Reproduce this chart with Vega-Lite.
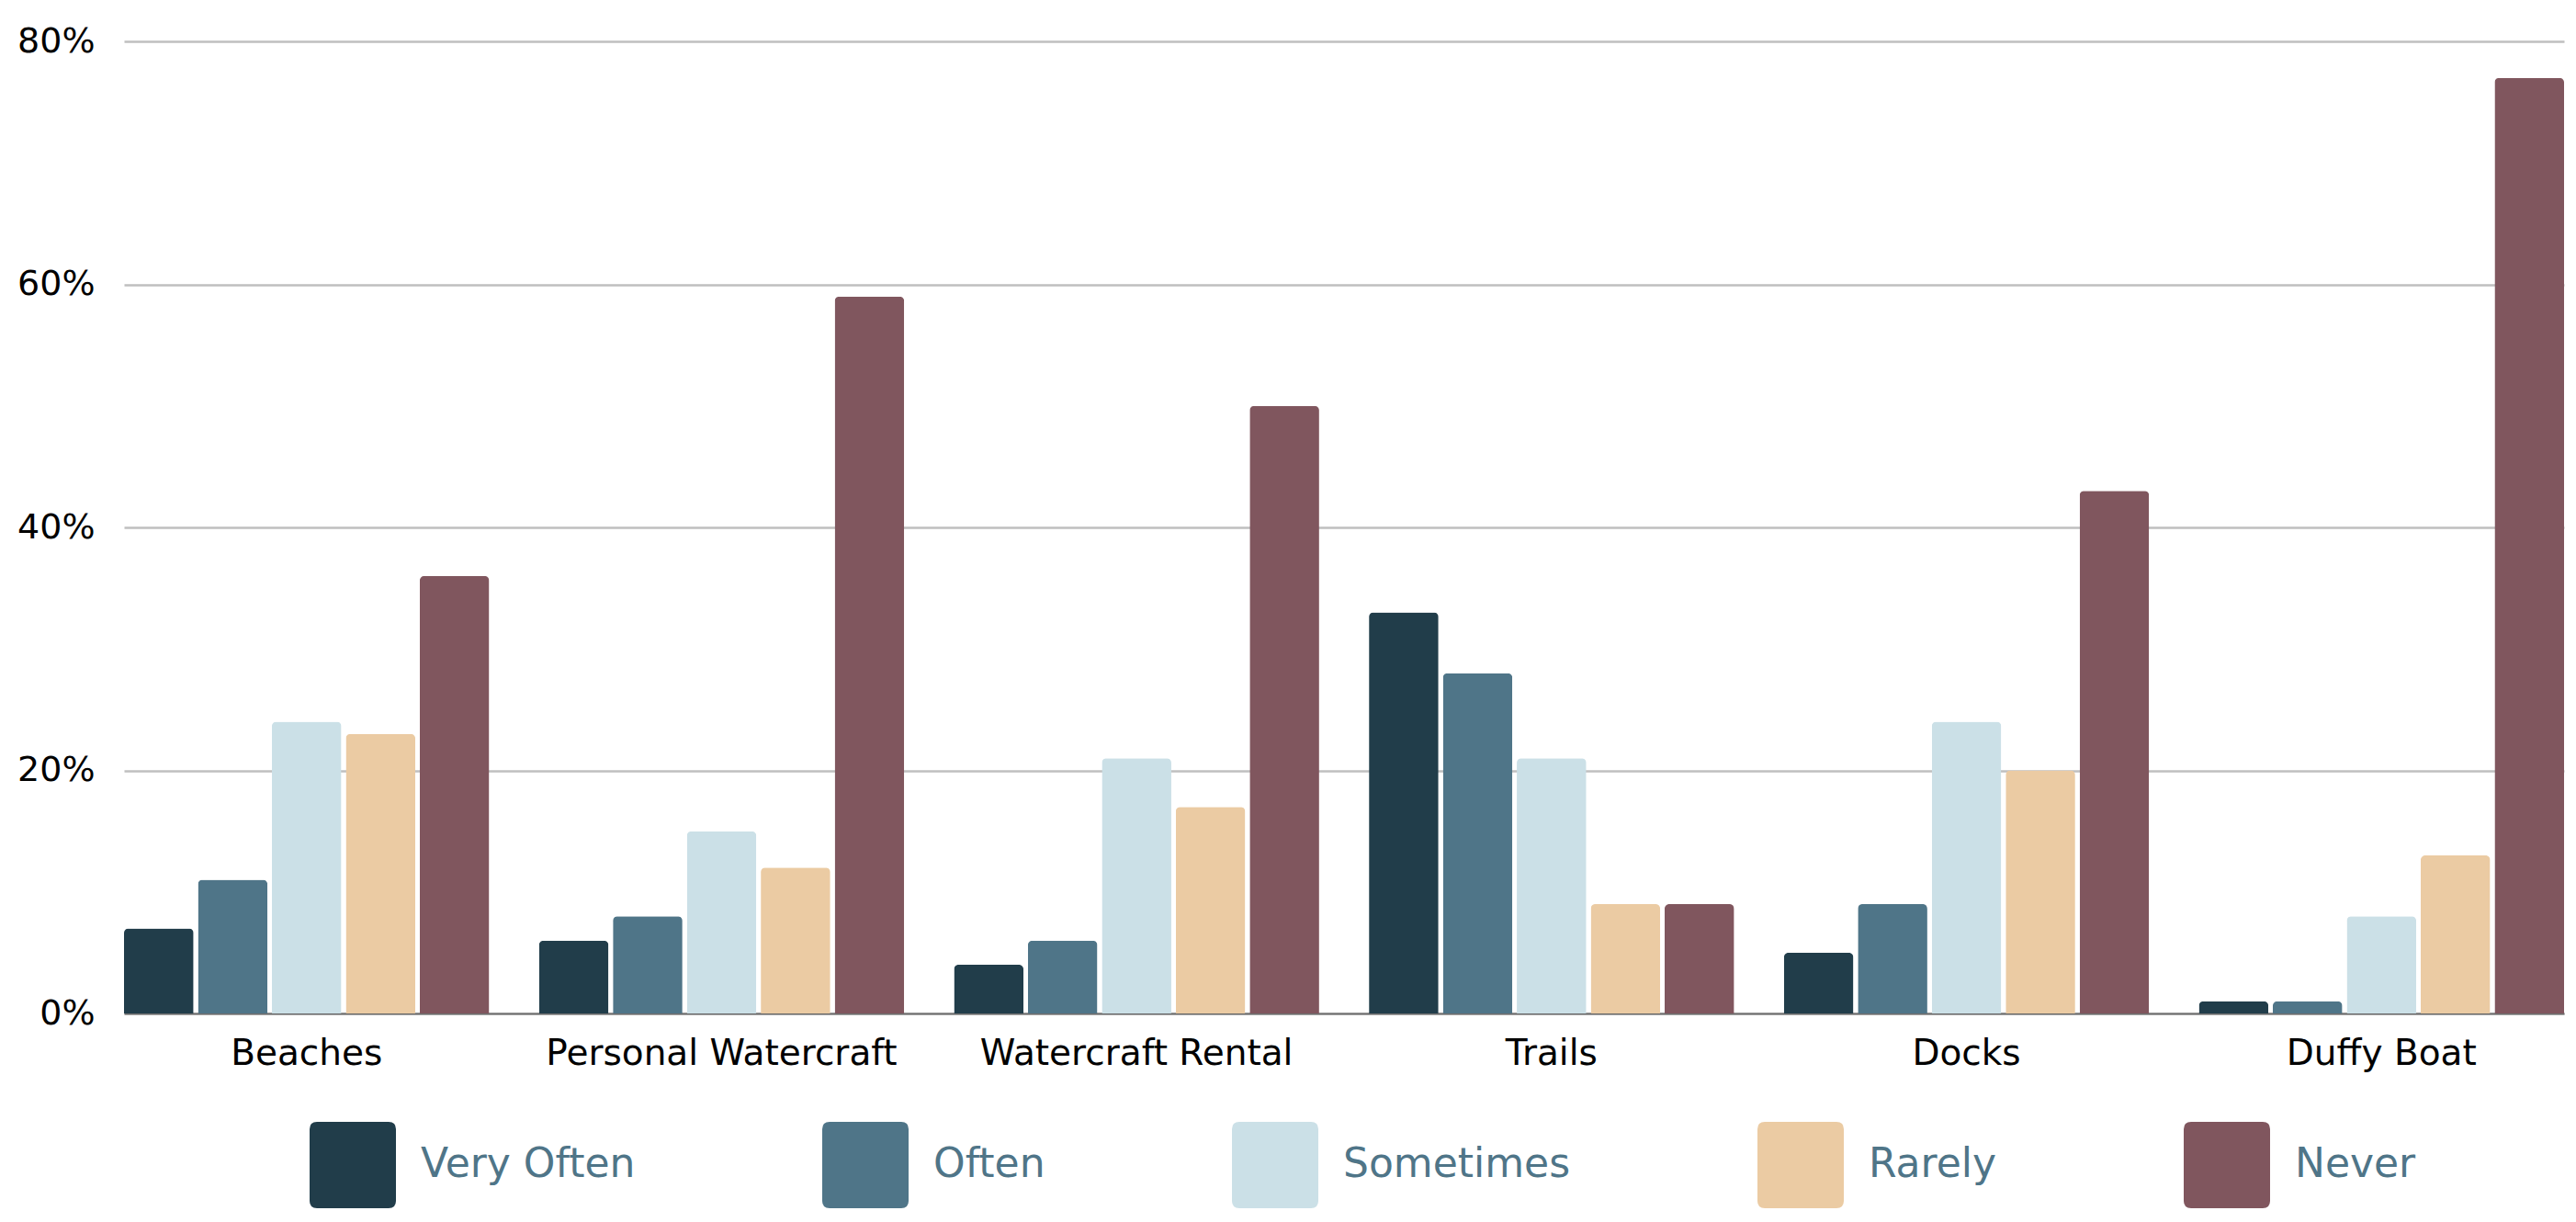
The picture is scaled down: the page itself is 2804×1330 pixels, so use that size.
{
  "$schema": "https://vega.github.io/schema/vega-lite/v6.json",
  "width": 2656,
  "height": 1058,
  "autosize": {"type": "none"},
  "padding": {"left": 135, "top": 45, "right": 13, "bottom": 227},
  "background": "#ffffff",
  "config": {"view": {"stroke": null}, "font": "DejaVu Sans"},
  "data": {
    "values": [
      {"place": "Beaches", "freq": "Very Often", "pct": 7},
      {"place": "Beaches", "freq": "Often", "pct": 11},
      {"place": "Beaches", "freq": "Sometimes", "pct": 24},
      {"place": "Beaches", "freq": "Rarely", "pct": 23},
      {"place": "Beaches", "freq": "Never", "pct": 36},
      {"place": "Personal Watercraft", "freq": "Very Often", "pct": 6},
      {"place": "Personal Watercraft", "freq": "Often", "pct": 8},
      {"place": "Personal Watercraft", "freq": "Sometimes", "pct": 15},
      {"place": "Personal Watercraft", "freq": "Rarely", "pct": 12},
      {"place": "Personal Watercraft", "freq": "Never", "pct": 59},
      {"place": "Watercraft Rental", "freq": "Very Often", "pct": 4},
      {"place": "Watercraft Rental", "freq": "Often", "pct": 6},
      {"place": "Watercraft Rental", "freq": "Sometimes", "pct": 21},
      {"place": "Watercraft Rental", "freq": "Rarely", "pct": 17},
      {"place": "Watercraft Rental", "freq": "Never", "pct": 50},
      {"place": "Trails", "freq": "Very Often", "pct": 33},
      {"place": "Trails", "freq": "Often", "pct": 28},
      {"place": "Trails", "freq": "Sometimes", "pct": 21},
      {"place": "Trails", "freq": "Rarely", "pct": 9},
      {"place": "Trails", "freq": "Never", "pct": 9},
      {"place": "Docks", "freq": "Very Often", "pct": 5},
      {"place": "Docks", "freq": "Often", "pct": 9},
      {"place": "Docks", "freq": "Sometimes", "pct": 24},
      {"place": "Docks", "freq": "Rarely", "pct": 20},
      {"place": "Docks", "freq": "Never", "pct": 43},
      {"place": "Duffy Boat", "freq": "Very Often", "pct": 1},
      {"place": "Duffy Boat", "freq": "Often", "pct": 1},
      {"place": "Duffy Boat", "freq": "Sometimes", "pct": 8},
      {"place": "Duffy Boat", "freq": "Rarely", "pct": 13},
      {"place": "Duffy Boat", "freq": "Never", "pct": 77}
    ]
  },
  "mark": {"type": "bar", "cornerRadiusTopLeft": 5, "cornerRadiusTopRight": 5},
  "encoding": {
    "x": {
      "field": "place",
      "type": "nominal",
      "sort": null,
      "scale": {"paddingInner": 0.12, "paddingOuter": 0},
      "axis": {
        "title": null,
        "labelAngle": 0,
        "labelFontSize": 39,
        "labelColor": "#000000",
        "labelPadding": 24,
        "labelLimit": 800,
        "ticks": false,
        "domain": true,
        "domainColor": "#6e6e6e",
        "domainWidth": 2
      }
    },
    "xOffset": {
      "field": "freq",
      "type": "nominal",
      "sort": ["Very Often", "Often", "Sometimes", "Rarely", "Never"],
      "scale": {"paddingInner": 0.06, "paddingOuter": 0}
    },
    "y": {
      "field": "pct",
      "type": "quantitative",
      "scale": {"domain": [0, 80], "nice": false},
      "axis": {
        "title": null,
        "values": [0, 20, 40, 60, 80],
        "labelExpr": "datum.value + '%'",
        "labelFontSize": 38,
        "labelColor": "#000000",
        "labelPadding": 32,
        "ticks": false,
        "domain": false,
        "grid": true,
        "gridColor": "#bfbfbf",
        "gridWidth": 2.5
      }
    },
    "color": {
      "field": "freq",
      "type": "nominal",
      "sort": ["Very Often", "Often", "Sometimes", "Rarely", "Never"],
      "scale": {
        "domain": ["Very Often", "Often", "Sometimes", "Rarely", "Never"],
        "range": ["#213d4a", "#4f7588", "#cbe0e7", "#ebcba3", "#80565e"]
      },
      "legend": {
        "title": null,
        "orient": "none",
        "direction": "horizontal",
        "legendX": 202,
        "legendY": 1176,
        "padding": 0,
        "symbolType": "M -0.83 -1 L 0.83 -1 Q 1 -1 1 -0.83 L 1 0.83 Q 1 1 0.83 1 L -0.83 1 Q -1 1 -1 0.83 L -1 -0.83 Q -1 -1 -0.83 -1 Z",
        "symbolSize": 8836,
        "symbolStrokeWidth": 0,
        "symbolOpacity": 1,
        "labelFontSize": 44,
        "labelColor": "#4f7588",
        "labelOffset": 27,
        "columnPadding": 203,
        "labelLimit": 600
      }
    }
  }
}
